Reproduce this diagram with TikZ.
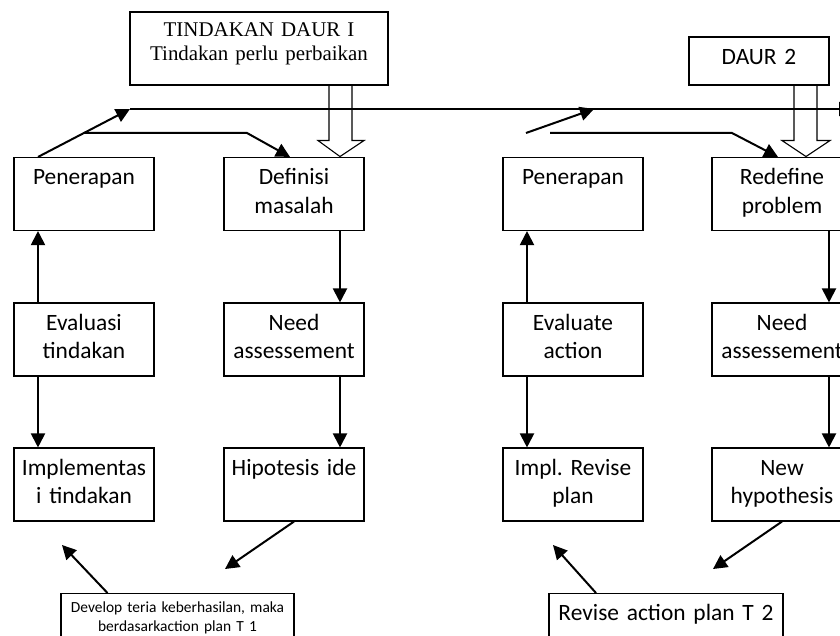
\documentclass[tikz,border=0pt]{standalone}
\usepackage{fontspec}
\setmainfont{Carlito}
\newfontfamily\timesfont{Liberation Serif}
\frenchspacing
\usetikzlibrary{
	arrows.meta,
	calc
}

\begin{document}
\begin{tikzpicture}[x=1bp, y=-1bp,
		box/.style={draw, line width=1.1bp, align=center, inner xsep=0pt, inner ysep=0pt,
			text width=140bp, text height=27bp, text depth=46bp,
			font=\fontsize{23.5}{29}\selectfont},
		arr/.style={line width=2bp, -{Triangle[length=14bp, width=14bp]}},
		hollow/.style={line width=1.1bp, line join=miter}]
		\useasboundingbox (0,0) rectangle (840,636);
		\clip (0,0) rectangle (840,636);
		
		% kotak judul
		\node[box, text width=258bp, text height=25bp, text depth=48bp,
			font=\timesfont\fontsize{21}{23.5}\selectfont] (daurI) at (259,48.5)
			{TINDAKAN DAUR I\\Tindakan perlu perbaikan};
		\node[box, text height=27.5bp, text depth=20.5bp] (daurII) at (759,61) {DAUR 2};
		
		% daur 1
		\node[box] (pen1) at (84,194) {Penerapan};
		\node[box] (def1) at (294,194) {Definisi\\masalah};
		\node[box] (eva1) at (84,339.5) {Evaluasi\\tindakan};
		\node[box] (need1) at (294,339.5) {Need\\assessement};
		\node[box] (imp1) at (84,484.5) {Implementas\\i tindakan};
		\node[box] (hip1) at (294,484.5) {Hipotesis ide};
		\node[box, anchor=north, text width=233bp, text height=19bp, text depth=50bp,
			font=\fontsize{15.5}{19}\selectfont] (dev1) at (177.5,593)
			{Develop teria keberhasilan, maka\\berdasarkaction plan T 1};
		
		% daur 2
		\node[box] (pen2) at (573,194) {Penerapan};
		\node[box] (red2) at (782,194) {Redefine\\problem};
		\node[box] (eva2) at (573,339.5) {Evaluate\\action};
		\node[box] (need2) at (782,339.5) {Need\\assessement};
		\node[box] (imp2) at (573,484.5) {Impl. Revise\\plan};
		\node[box] (new2) at (782,484.5) {New\\hypothesis};
		\node[box, anchor=north, text width=234bp] (rev2) at (666,593) {Revise action plan T 2};
		
		% panah vertikal
		\draw[arr] ([xshift=-46bp]eva1.north) -- ([xshift=-46bp]pen1.south);
		\draw[arr] ([xshift=-46bp]eva1.south) -- ([xshift=-46bp]imp1.north);
		\draw[arr] ([xshift=46bp]def1.south) -- ([xshift=46bp]need1.north);
		\draw[arr] ([xshift=46bp]need1.south) -- ([xshift=46bp]hip1.north);
		\draw[arr] ([xshift=-46bp]eva2.north) -- ([xshift=-46bp]pen2.south);
		\draw[arr] ([xshift=-46bp]eva2.south) -- ([xshift=-46bp]imp2.north);
		\draw[arr] ([xshift=47bp]red2.south) -- ([xshift=47bp]need2.north);
		\draw[arr] ([xshift=47bp]need2.south) -- ([xshift=47bp]new2.north);
		
		% garis atas
		\coordinate (a1) at (130,109);
		\coordinate (a2) at (853,109);
		\coordinate (b1) at (247,133);
		\draw[arr] ([xshift=-46bp]pen1.north) -- (a1);
		\draw[arr] (a1) -- (a2);
		\draw[arr] ($([xshift=-46bp]pen1.north)!0.5!(a1)$) -- (b1) -- ([xshift=-4bp]def1.north);
		
		\coordinate (c1) at (526,133);
		\coordinate (c2) at (594,109);
		\coordinate (d1) at (550,133);
		\coordinate (d2) at (732,133);
		\draw[arr] (c1) -- (c2);
		\draw[arr] (d1) -- (d2) -- ([xshift=-4bp]red2.north);
		
		% panah kosong
		\draw[hollow] ([xshift=70bp]daurI.south) -- ++(0,55) -- ++(-11,0) -- ++(22,16)
			-- ++(24,-16) -- ++(-12,0) -- ++(0,-55);
		\draw[hollow] ([xshift=35bp]daurII.south) -- ++(0,55) -- ++(-12,0) -- ++(24,16)
			-- ++(24,-16) -- ++(-13,0) -- ++(0,-55);
		
		% panah bawah
		\coordinate (e1) at (225,569);
		\coordinate (e2) at (62,545);
		\coordinate (f1) at (713,569);
		\coordinate (f2) at (553,545);
		\draw[arr] (hip1.south) -- (e1);
		\draw[arr] ([xshift=-70bp]dev1.north) -- (e2);
		\draw[arr] (new2.south) -- (f1);
		\draw[arr] ([xshift=-70bp]rev2.north) -- (f2);
	\end{tikzpicture}
\end{document}
